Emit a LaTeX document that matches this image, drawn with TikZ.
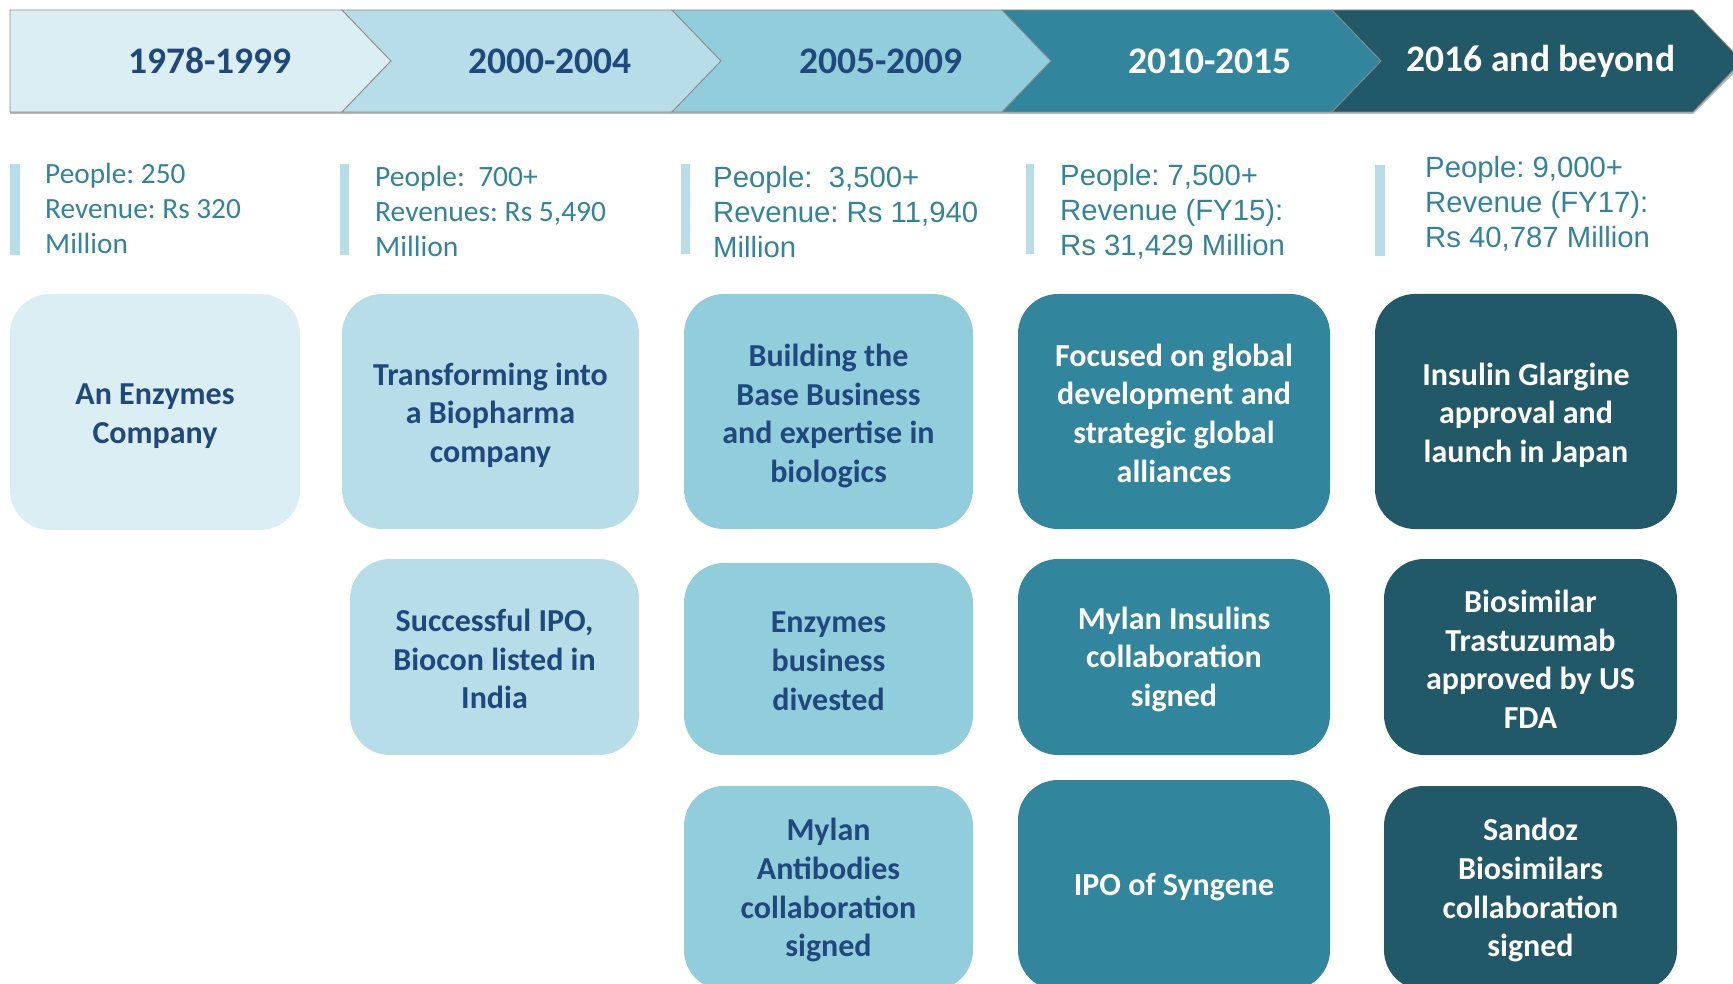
\documentclass[tikz,border=0pt]{standalone}
\usepackage{fontspec}
\setmainfont{Carlito}
\newfontfamily\arialf{Liberation Sans}
\usetikzlibrary{shadows}
\frenchspacing

\definecolor{tone1}{HTML}{DBEEF3}
\definecolor{tone2}{HTML}{B7DDE8}
\definecolor{tone3}{HTML}{92CDDC}
\definecolor{tone4}{HTML}{31859C}
\definecolor{tone5}{HTML}{215968}
\definecolor{navy}{HTML}{1F497D}
\definecolor{statteal}{HTML}{31849B}

\begin{document}
\begin{tikzpicture}[x=1pt,y=-1pt,
  chevline/.style={draw=black!45, line width=0.8pt},
  chevshade/.style={fill=black, opacity=0.28},
  chevtext/.style={inner sep=0pt, font=\fontsize{37.5}{45}\selectfont\bfseries},
  card/.style={rounded corners=40pt, inner sep=0pt, draw=none},
  cardtext/.style={inner sep=0pt, align=center,
    font=\fontsize{32}{38.6}\selectfont\bfseries},
  statbar/.style={fill=tone2, draw=none},
  statcal/.style={anchor=base west, inner sep=0pt, text=statteal,
    font=\fontsize{29.3}{35}\selectfont},
  statcalb/.style={anchor=base west, inner sep=0pt, text=statteal,
    font=\fontsize{29.5}{35}\selectfont},
  statari/.style={anchor=base west, inner sep=0pt, text=statteal,
    font=\arialf\fontsize{29.3}{35}\selectfont},
]
\useasboundingbox (0,0) rectangle (1733,984);
\clip (0,0) rectangle (1733,984);

% ---- timeline band: soft shadow under the chevrons
\begin{scope}[yshift=-4pt]
  \fill[chevshade] (10,14) -- (1693,14) -- (1742,61) -- (1693,110) -- (10,110) -- cycle;
\end{scope}

% ---- timeline chevrons
\path[fill=tone1, chevline] (10,10) -- (342,10) -- (391,61) -- (342,112) -- (10,112) -- cycle;
\path[fill=tone2, chevline] (342,10) -- (672,10) -- (721,61) -- (672,112) -- (342,112) -- (391,61) -- cycle;
\path[fill=tone3, chevline] (672,10) -- (1002,10) -- (1051,61) -- (1002,112) -- (672,112) -- (721,61) -- cycle;
\path[fill=tone4, chevline] (1002,10) -- (1332,10) -- (1381,61) -- (1332,112) -- (1002,112) -- (1051,61) -- cycle;
\path[fill=tone5, chevline] (1332,10) -- (1693,10) -- (1742,61) -- (1693,112) -- (1332,112) -- (1381,61) -- cycle;

\node[chevtext, text=navy]  (p1) at (210,61)  {1978-1999};
\node[chevtext, text=navy]  (p2) at (550,61)  {2000-2004};
\node[chevtext, text=navy]  (p3) at (881,61)  {2005-2009};
\node[chevtext, text=white] (p4) at (1210,61) {2010-2015};
\node[chevtext, text=white] (p5) at (1541,61) {2016 and beyond};

% ---- headcount and revenue figures
\fill[statbar] (10,164) rectangle (20,255);
\node[statcal] (s1a) at (45,184) {People: 250};
\node[statcal] (s1b) at (45,219) {Revenue: Rs 320};
\node[statcal] (s1c) at (45,254) {Million};

\fill[statbar] (340,164) rectangle (349,255);
\node[statcalb] (s2a) at (375,187) {People:\ \ 700+};
\node[statcalb] (s2b) at (375,222) {Revenues: Rs 5,490};
\node[statcalb] (s2c) at (375,257) {Million};

\fill[statbar] (681,164) rectangle (690,254);
\node[statari] (s3a) at (713,187.5) {People:\ \ 3,500+};
\node[statari] (s3b) at (713,222.5) {Revenue: Rs 11,940};
\node[statari] (s3c) at (713,257.5) {Million};

\fill[statbar] (1026,164) rectangle (1034,254);
\node[statari] (s4a) at (1060,185.5) {People: 7,500+};
\node[statari] (s4b) at (1060,220.5) {Revenue (FY15):};
\node[statari] (s4c) at (1060,255.5) {Rs 31,429 Million};

\fill[statbar] (1375,165) rectangle (1385,256);
\node[statari] (s5a) at (1425,177.5) {People: 9,000+};
\node[statari] (s5b) at (1425,213) {Revenue (FY17):};
\node[statari] (s5c) at (1425,247.5) {Rs 40,787 Million};

% ---- milestone cards, first row
\node[card, fill=tone1, minimum width=290pt, minimum height=236pt] (c11) at (155,412) {};
\node[card, fill=tone2, minimum width=297pt, minimum height=235pt] (c21) at (490.5,411.5) {};
\node[card, fill=tone3, minimum width=289pt, minimum height=235pt] (c31) at (828.5,411.5) {};
\node[card, fill=tone4, minimum width=312pt, minimum height=235pt] (c41) at (1174,411.5) {};
\node[card, fill=tone5, minimum width=302pt, minimum height=235pt] (c51) at (1526,411.5) {};

\node[cardtext, text=navy]  (t11) at (155,416.4)  {An Enzymes\\Company};
\node[cardtext, text=navy]  (t21) at (490.5,415)  {Transforming into\\a Biopharma\\company};
\node[cardtext, text=navy]  (t31) at (828.5,416)  {Building the\\Base Business\\and expertise in\\biologics};
\node[cardtext, text=white] (t41) at (1174,413)   {Focused on global\\development and\\strategic global\\alliances};
\node[cardtext, text=white] (t51) at (1526,415)   {Insulin Glargine\\approval and\\launch in Japan};

% ---- second row
\node[card, fill=tone2, minimum width=289pt, minimum height=196pt] (c22) at (494.5,657) {};
\node[card, fill=tone3, minimum width=289pt, minimum height=192pt] (c32) at (828.5,659) {};
\node[card, fill=tone4, minimum width=312pt, minimum height=196pt] (c42) at (1174,657) {};
\node[card, fill=tone5, minimum width=293pt, minimum height=196pt] (c52) at (1530.5,657) {};

\node[cardtext, text=navy]  (t22) at (494.5,659.2) {Successful IPO,\\Biocon listed in\\India};
\node[cardtext, text=navy]  (t32) at (828.5,661.2) {Enzymes\\business\\divested};
\node[cardtext, text=white] (t42) at (1174,659.2)  {Mylan Insulins\\collaboration\\signed};
\node[cardtext, text=white] (t52) at (1530.5,659.2) {Biosimilar\\Trastuzumab\\approved by US\\FDA};

% ---- third row (runs past the lower edge)
\node[card, fill=tone3, minimum width=289pt, minimum height=204pt] (c33) at (828.5,888) {};
\node[card, fill=tone4, minimum width=312pt, minimum height=210pt] (c43) at (1174,885) {};
\node[card, fill=tone5, minimum width=293pt, minimum height=204pt] (c53) at (1530.5,888) {};

\node[cardtext, text=navy]  (t33) at (828.5,890.2) {Mylan\\Antibodies\\collaboration\\signed};
\node[cardtext, text=white] (t43) at (1174,887.2)  {IPO of Syngene};
\node[cardtext, text=white] (t53) at (1530.5,890.2) {Sandoz\\Biosimilars\\collaboration\\signed};
\end{tikzpicture}
\end{document}
